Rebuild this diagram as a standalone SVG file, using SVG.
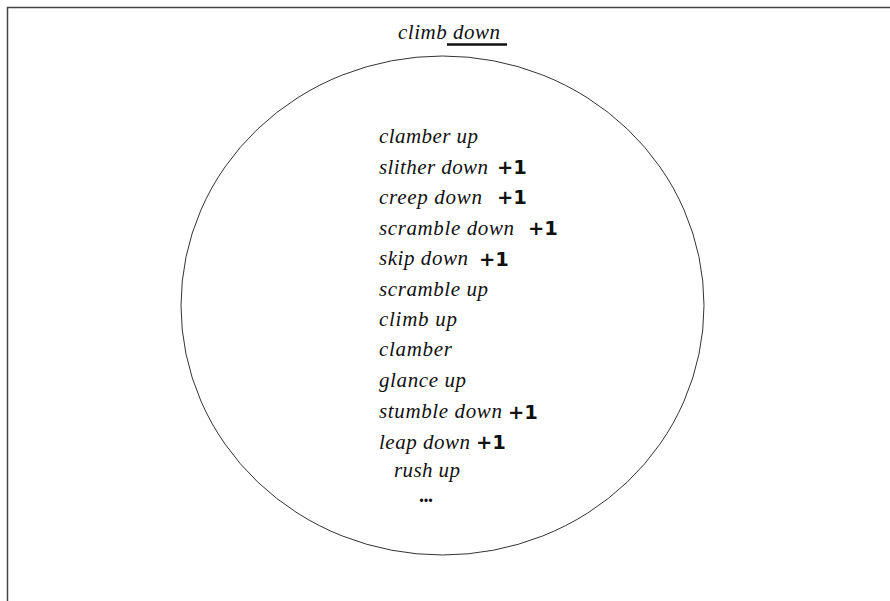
<svg xmlns="http://www.w3.org/2000/svg" width="890" height="601" viewBox="0 0 890 601">
<style>
.t{font-family:"Liberation Serif",serif;font-style:italic;font-size:21px;fill:#111}
.p{font-family:"DejaVu Sans","Liberation Sans",sans-serif;font-weight:bold;font-size:19.5px;fill:#111}
</style>
<rect width="890" height="601" fill="#fff"/>
<path d="M7.5 601 V7.5 H890" fill="none" stroke="#444" stroke-width="1.5"/>
<g id="title">
<text class="t" x="398" y="39" textLength="102" lengthAdjust="spacing">climb down</text>
<line x1="447" y1="44.5" x2="507" y2="44.5" stroke="#111" stroke-width="2.6"/>
</g>
<g id="circle">
<ellipse cx="442.5" cy="305.5" rx="261.5" ry="249.5" fill="none" stroke="#333" stroke-width="1"/>
</g>
<g id="items">
<text class="t" x="379" y="142.5" textLength="99" lengthAdjust="spacing">clamber up</text>
<text class="t" x="379" y="173.5" textLength="109" lengthAdjust="spacing">slither down</text><text class="p" x="497" y="174">+1</text>
<text class="t" x="379" y="203.5" textLength="103" lengthAdjust="spacing">creep down</text><text class="p" x="497" y="204">+1</text>
<text class="t" x="379" y="234.5" textLength="135" lengthAdjust="spacing">scramble down</text><text class="p" x="528" y="235">+1</text>
<text class="t" x="379" y="265" textLength="89" lengthAdjust="spacing">skip down</text><text class="p" x="479" y="265.5">+1</text>
<text class="t" x="379" y="295.5" textLength="109" lengthAdjust="spacing">scramble up</text>
<text class="t" x="379" y="326" textLength="78" lengthAdjust="spacing">climb up</text>
<text class="t" x="379" y="356" textLength="73" lengthAdjust="spacing">clamber</text>
<text class="t" x="379" y="387" textLength="87" lengthAdjust="spacing">glance up</text>
<text class="t" x="379" y="418" textLength="123" lengthAdjust="spacing">stumble down</text><text class="p" x="508" y="418.5">+1</text>
<text class="t" x="379" y="448.5" textLength="91" lengthAdjust="spacing">leap down</text><text class="p" x="476" y="449">+1</text>
<text class="t" x="394" y="477" textLength="66" lengthAdjust="spacing">rush up</text>
<text x="419" y="502" font-family="Liberation Serif,serif" font-weight="bold" font-size="20" fill="#111" textLength="14" lengthAdjust="spacing">...</text>
</g>
</svg>
